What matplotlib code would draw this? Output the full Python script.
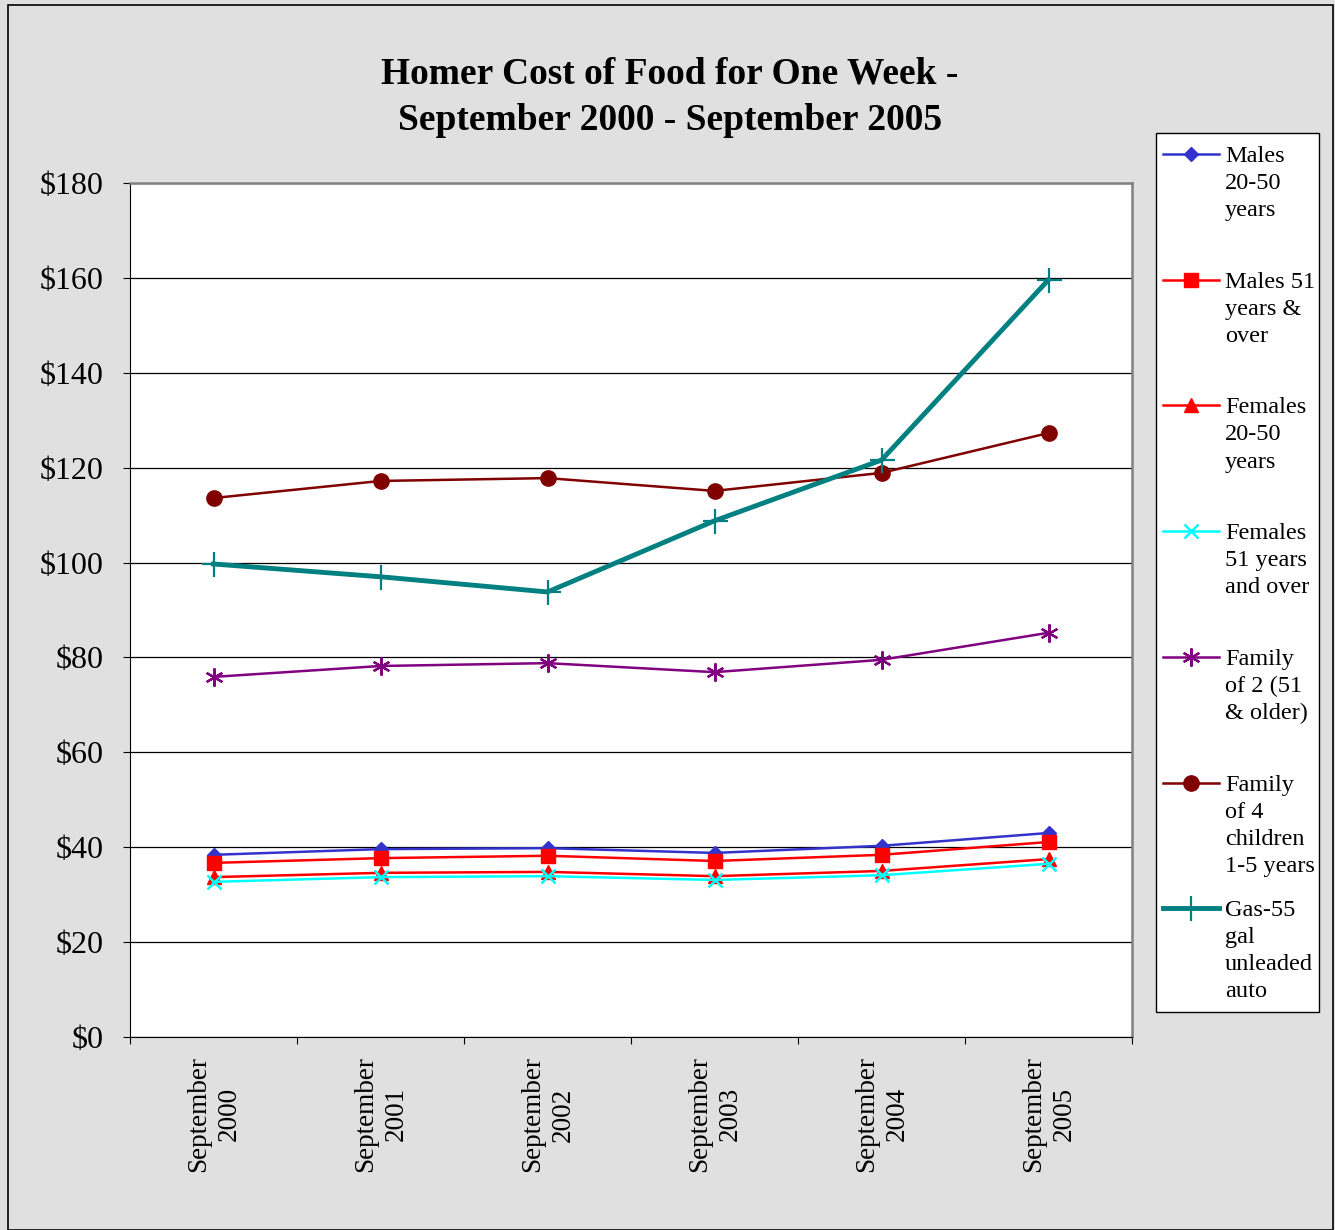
import matplotlib
matplotlib.use("Agg")
import matplotlib.pyplot as plt
from matplotlib.patches import Rectangle
from matplotlib.lines import Line2D

plt.rcParams["font.family"] = ["Liberation Serif", "DejaVu Serif"]

years = ["September\n2000", "September\n2001", "September\n2002",
         "September\n2003", "September\n2004", "September\n2005"]

males_20_50 = [38.4, 39.6, 39.8, 38.8, 40.3, 43.0]
males_51 = [36.7, 37.7, 38.2, 37.1, 38.4, 41.1]
females_20_50 = [33.7, 34.6, 34.8, 33.9, 35.0, 37.5]
females_51 = [32.7, 33.7, 33.9, 33.1, 34.1, 36.5]
family_2 = [75.9, 78.2, 78.8, 76.9, 79.5, 85.2]
family_4 = [113.6, 117.2, 117.8, 115.1, 118.9, 127.3]
gas_55 = [99.7, 97.0, 93.8, 108.8, 121.6, 159.6]

labels = ["Males\n20-50\nyears", "Males 51\nyears &\nover", "Females\n20-50\nyears",
          "Females\n51 years\nand over", "Family\nof 2 (51\n& older)",
          "Family\nof 4\nchildren\n1-5 years", "Gas-55\ngal\nunleaded\nauto"]

W, H = 1335, 1230
fig = plt.figure(figsize=(W / 100, H / 100), dpi=100)
fig.patch.set_facecolor("#e0e0e0")
fig.patches.append(Rectangle((8 / W, 0.0), 1325 / W, 1 - 5 / H,
                             transform=fig.transFigure, fill=False,
                             edgecolor="black", linewidth=1.2))

ax = fig.add_axes([130 / W, 1 - 1037 / H, 1002 / W, 854 / H])
x = list(range(len(years)))

styles = [
    (males_20_50, dict(color="#3333cc", marker="D", markersize=7, linewidth=1.8)),
    (males_51, dict(color="#ff0000", marker="s", markersize=10, linewidth=1.8)),
    (females_20_50, dict(color="#ff0000", marker="^", markersize=10, linewidth=1.8)),
    (females_51, dict(color="#00ffff", marker="x", markersize=10, markeredgewidth=1.8, linewidth=1.8)),
    (family_2, dict(color="#800080", marker=(6, 2, 0), markersize=13, markeredgewidth=1.6, linewidth=1.8)),
    (family_4, dict(color="#800000", marker="o", markersize=11, linewidth=1.8)),
    (gas_55, dict(color="#008080", marker="+", markersize=18, markeredgewidth=1.6, linewidth=3.5)),
]
for vals, st in styles:
    ax.plot(x, vals, **st)

ax.set_xlim(-0.5, 5.5)
ax.set_ylim(0, 180)
ax.set_yticks(range(0, 181, 20))
ax.set_yticklabels([f"${v}" for v in range(0, 181, 20)], fontsize=23)
ax.yaxis.grid(True, color="black", linewidth=0.9)
ax.set_axisbelow(True)

ax.set_xticks([i - 0.5 for i in range(7)])
ax.set_xticklabels([])
ax.set_xticks(x, minor=True)
ax.set_xticklabels(years, minor=True, rotation=90, fontsize=19.5, va="top", ha="center",
                   multialignment="center", linespacing=1.3)
ax.tick_params(axis="x", which="minor", length=0, pad=14)
ax.tick_params(axis="x", which="major", length=5, direction="out")
ax.tick_params(axis="y", length=5, direction="out", pad=14)

for side in ["top", "right"]:
    ax.spines[side].set_color("#808080")
    ax.spines[side].set_linewidth(1.8)
for side in ["left", "bottom"]:
    ax.spines[side].set_color("black")

fig.text(670 / W, 1 - 74 / H, "Homer Cost of Food for One Week -",
         ha="center", va="center", fontsize=27, fontweight="bold")
fig.text(670 / W, 1 - 120 / H, "September 2000 - September 2005",
         ha="center", va="center", fontsize=27, fontweight="bold")

# legend box drawn by hand so the entries sit like the original
fig.patches.append(Rectangle((1156 / W, 1 - 1012 / H), 163 / W, 879 / H,
                             transform=fig.transFigure, facecolor="white",
                             edgecolor="black", linewidth=1.0))
for i, (vals, st) in enumerate(styles):
    yl = 1 - (154 + 125.7 * i) / H
    line_kw = dict(st)
    fig.add_artist(Line2D([1163 / W, 1219 / W], [yl, yl], transform=fig.transFigure,
                          color=line_kw["color"], linewidth=line_kw["linewidth"]))
    mk = {k: v for k, v in line_kw.items() if k != "linewidth"}
    fig.add_artist(Line2D([1191 / W], [yl], transform=fig.transFigure, linestyle="none", **mk))
    fig.text(1225 / W, yl + 8 / H, labels[i], ha="left", va="top", fontsize=17.5,
             linespacing=1.38)

fig.savefig("out.png", dpi=100, facecolor=fig.get_facecolor())
